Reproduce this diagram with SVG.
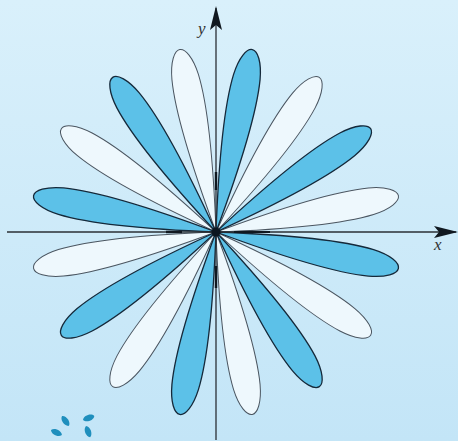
<svg xmlns="http://www.w3.org/2000/svg" xmlns:xlink="http://www.w3.org/1999/xlink" width="458" height="441" viewBox="0 0 458 441">
<defs>
<linearGradient id="bg" x1="0" y1="0" x2="0" y2="1">
<stop offset="0" stop-color="#d9f0fb"/>
<stop offset="1" stop-color="#c3e5f7"/>
</linearGradient>
<path id="petal" d="M0,0 C50,-8 118,-17.5 158,-13.5 C176,-11.5 186,-5.5 186,0 C186,5.5 176,11.5 158,13.5 C118,17.5 50,8 0,0Z"/>
<path id="mini" d="M0,0 C2,-4 10,-4 12,0 C10,4 2,4 0,0Z"/>
<marker id="arr" viewBox="0 0 24 12" refX="22" refY="6" markerWidth="24" markerHeight="12" markerUnits="userSpaceOnUse" orient="auto">
<path d="M0,0 L24,6 L0,12 L5,6Z" fill="#101820"/>
</marker>
</defs>
<style>
.blue{fill:#5cc1e8;stroke:#15293a;stroke-width:1.3}
.white{fill:#eef8fd;stroke:#4a5560;stroke-width:1}
.axis{stroke:#2a2f35;stroke-width:1.3;fill:none}
.lbl{font-family:"Liberation Serif",serif;font-style:italic;font-size:17px;fill:#333}
.mini{fill:#1f8fbd}
</style>
<rect width="458" height="441" fill="url(#bg)"/>
<g id="flower" transform="translate(216,232)">
<use xlink:href="#petal" class="white" transform="rotate(-11.25)"/>
<use xlink:href="#petal" class="white" transform="rotate(33.75)"/>
<use xlink:href="#petal" class="white" transform="rotate(78.75)"/>
<use xlink:href="#petal" class="white" transform="rotate(123.75)"/>
<use xlink:href="#petal" class="white" transform="rotate(168.75)"/>
<use xlink:href="#petal" class="white" transform="rotate(213.75)"/>
<use xlink:href="#petal" class="white" transform="rotate(258.75)"/>
<use xlink:href="#petal" class="white" transform="rotate(303.75)"/>
<use xlink:href="#petal" class="blue" transform="rotate(11.25)"/>
<use xlink:href="#petal" class="blue" transform="rotate(56.25)"/>
<use xlink:href="#petal" class="blue" transform="rotate(101.25)"/>
<use xlink:href="#petal" class="blue" transform="rotate(146.25)"/>
<use xlink:href="#petal" class="blue" transform="rotate(191.25)"/>
<use xlink:href="#petal" class="blue" transform="rotate(236.25)"/>
<use xlink:href="#petal" class="blue" transform="rotate(281.25)"/>
<use xlink:href="#petal" class="blue" transform="rotate(326.25)"/>
</g>
<g id="axes">
<line class="axis" x1="7" y1="232" x2="456" y2="232" marker-end="url(#arr)"/>
<line class="axis" x1="216" y1="440" x2="216" y2="8" marker-end="url(#arr)"/>
<line x1="166" y1="232" x2="182" y2="232" stroke="#101820" stroke-width="2.5"/>
<line x1="234" y1="232" x2="270" y2="232" stroke="#101820" stroke-width="2"/>
<line x1="216" y1="172" x2="216" y2="190" stroke="#101820" stroke-width="2.5"/>
<line x1="216" y1="266" x2="216" y2="288" stroke="#101820" stroke-width="2.5"/>
<circle cx="216" cy="232" r="4.5" fill="#0c1620"/>
<text class="lbl" x="198" y="34">y</text>
<text class="lbl" x="434" y="250">x</text>
</g>
<g id="mini-flower">
<use xlink:href="#mini" class="mini" transform="translate(62,416) rotate(55)"/>
<use xlink:href="#mini" class="mini" transform="translate(83,420) rotate(-20)"/>
<use xlink:href="#mini" class="mini" transform="translate(51,430) rotate(25)"/>
<use xlink:href="#mini" class="mini" transform="translate(86,426) rotate(70)"/>
</g>
</svg>
